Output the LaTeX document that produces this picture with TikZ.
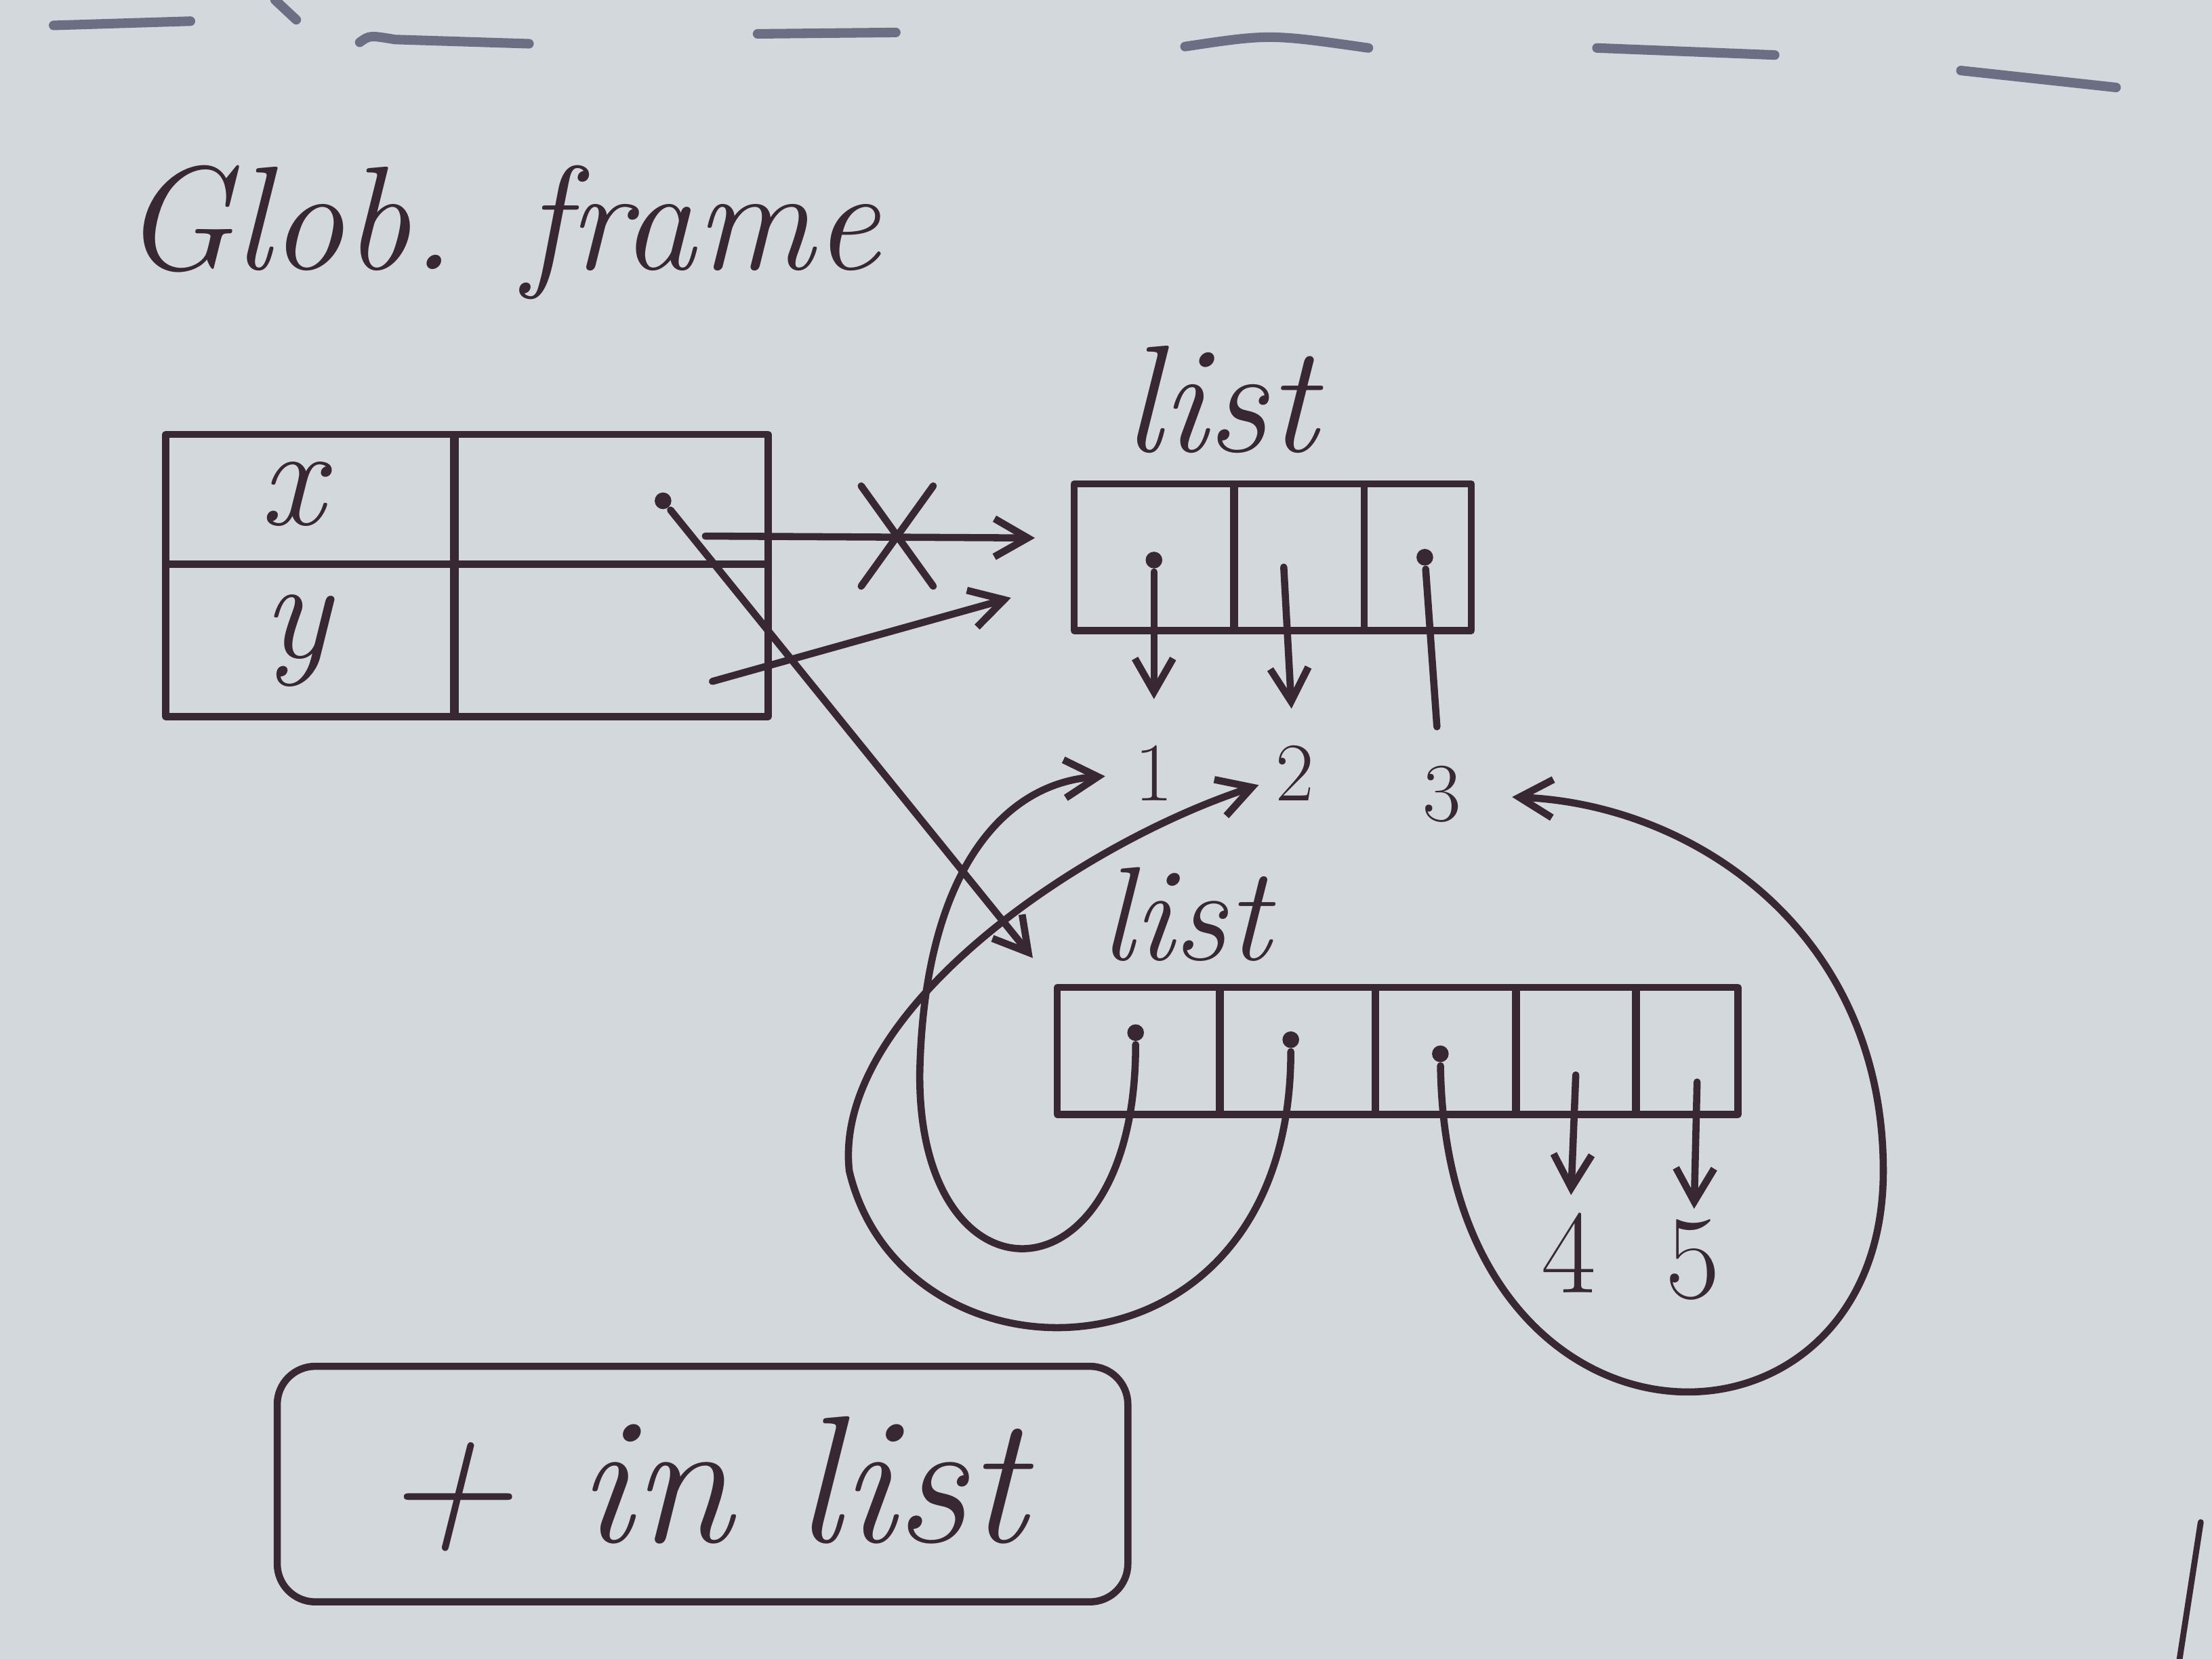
\documentclass[tikz,border=0pt]{standalone}
\usetikzlibrary{arrows.meta,shapes.misc}
\definecolor{paper}{RGB}{210,216,219}
\definecolor{ink}{RGB}{55,40,52}
\definecolor{bleed}{RGB}{108,110,132}
\newcommand{\spx}{0.020816cm}
\begin{document}
\begin{tikzpicture}[x=\spx, y=-\spx, color=ink, line width=3pt,
    line cap=round, line join=round,
    >={Straight Barb[length=14pt,width=16pt]},
    hand/.style={font=\fontsize{#1}{#1}\selectfont\itshape, inner sep=0pt},
    digit/.style={font=\fontsize{#1}{#1}\selectfont, inner sep=0pt},
    cell/.style 2 args={draw, minimum width=#1*\spx, minimum height=#2*\spx, inner sep=0pt},
    dot/.style={circle, fill, inner sep=0pt, minimum size=7pt}]

    \useasboundingbox (0,0) rectangle (1568,1176);
    \fill [paper] (0,0) rectangle (1568,1176);

    % ink showing through from the other page
    \begin{scope}[bleed, line width=4pt]
      \draw (38,18) -- (135,15);
      \draw (195,0) -- (210,14);
      \draw (255,30) .. controls (262,25) .. (280,28) -- (375,31);
      \draw (537,24) -- (635,23);
      \draw (840,33) .. controls (900,24) .. (970,34);
      \draw (1132,34) -- (1258,39);
      \draw (1390,50) -- (1500,62);
    \end{scope}
    \draw [line width=2.5pt] (1560,1079) -- (1545,1176);

    \node [hand=62pt] (18) at (355,165) {Glob. frame};

    % global frame
    \node [cell={205}{92}] (0) at (220,354) {};
    \node [cell={205}{108}] (1) at (220,454) {};
    \node [cell={223}{92}] (2) at (433,354) {};
    \node [cell={223}{108}] (3) at (433,454) {};
    \node [hand=60pt] (x) at (207,350) {x};
    \node [hand=60pt] (y) at (210,454) {y};

    % first list
    \node [hand=64pt] (19) at (865,283) {list};
    \node [cell={113}{104}] (4) at (818,395) {};
    \node [cell={92}{104}] (5) at (921,395) {};
    \node [cell={76}{104}] (6) at (1005,395) {};

    \node [digit=35pt] (7) at (818,548) {1};
    \node [digit=35pt] (8) at (918,548) {2};
    \node [digit=35pt] (9) at (1022,563) {3};

    \node [dot] (d4) at (818,397) {};
    \coordinate (c5) at (910,402);
    \node [dot] (d6) at (1010,395) {};
    \draw [->, shorten >=18pt] (d4) -- (7);
    \draw [->, shorten >=14pt] (c5) -- (8);
    \draw [shorten >=15pt] (d6) -- (9);

    % second list
    \node [hand=56pt] (20) at (840,648) {list};
    \node [cell={115}{90}] (10) at (807,745) {};
    \node [cell={110}{90}] (11) at (920,745) {};
    \node [cell={100}{90}] (12) at (1025,745) {};
    \node [cell={85}{90}] (13) at (1117,745) {};
    \node [cell={72}{90}] (14) at (1196,745) {};

    \node [digit=50pt] (15) at (1112,888) {4};
    \node [digit=50pt] (16) at (1200,893) {5};

    \node [dot] (d10) at (805,732) {};
    \node [dot] (d11) at (915,737) {};
    \node [dot] (d12) at (1021,747) {};
    \coordinate (c13) at (1117,762);
    \coordinate (c14) at (1203,767);

    \draw [->, shorten >=11pt] (d10) .. controls (805,930) and (650,930) .. (652,760)
      .. controls (655,620) and (710,555) .. (7);
    \draw [->, shorten >=6pt] (d11) .. controls (915,990) and (640,990) .. (602,830)
      .. controls (590,720) and (760,600) .. (8);
    \draw [->, shorten >=20pt] (d12) .. controls (1025,1050) and (1335,1050) .. (1335,830)
      .. controls (1335,660) and (1200,570) .. (9);
    \draw [->, shorten >=6pt] (c13) -- (15);
    \draw [->, shorten >=3pt] (c14) -- (16);

    % frame to lists
    \coordinate (a1) at (500,380);
    \draw [->, shorten >=15pt] (a1) -- ([yshift=8pt]4.west);
    \node [cross out, draw, minimum width=46*\spx, minimum height=66*\spx] (b1) at (636,380) {};
    \coordinate (a3) at (505,483);
    \draw [->, shorten >=26pt] (a3) -- ([yshift=-10pt]4.west);
    \node [dot] (a2) at (470,355) {};
    \draw [->, shorten >=14pt] (a2) -- (10.north west);

    \node [draw, rounded corners=16pt, minimum width=603*\spx, minimum height=167*\spx, hand=76pt] (17) at (498,1052) {+ in list};

\end{tikzpicture}
\end{document}
